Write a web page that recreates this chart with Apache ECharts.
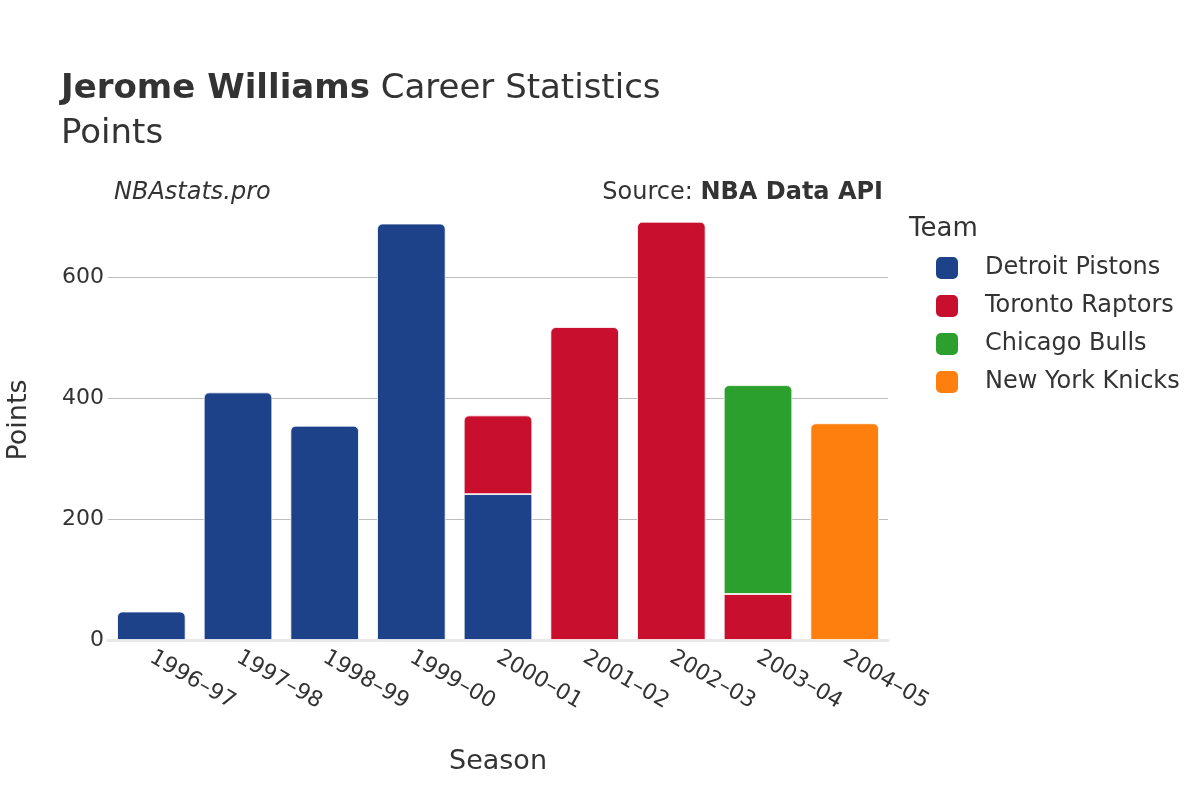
<!DOCTYPE html>
<html>
<head>
<meta charset="utf-8">
<script src="https://cdn.jsdelivr.net/npm/echarts@6/dist/echarts.min.js"></script>
<style>
  html, body { margin: 0; padding: 0; background: #fff; }
  #chart { width: 1200px; height: 800px; }
</style>
</head>
<body>
<div id="chart"></div>
<script>
// data
const seasons = ['1996–97', '1997–98', '1998–99', '1999–00', '2000–01', '2001–02', '2002–03', '2003–04', '2004–05']
const detroit = [47, 409, 354, 688, 241, null, null, null, null]
const toronto = [null, null, null, null, 130, 517, 691, 76, null]
const chicago = [null, null, null, null, null, null, null, 345, null]
const newYork = [null, null, null, null, null, null, null, null, 358]
const yTicks = [0, 200, 400, 600]

const teams = [
  { name: 'Detroit Pistons', data: detroit, color: '#1d428a' },
  { name: 'Toronto Raptors', data: toronto, color: '#c8102e' },
  { name: 'Chicago Bulls', data: chicago, color: '#2ca02c' },
  { name: 'New York Knicks', data: newYork, color: '#ff7f0e' },
]

const font = 'DejaVu Sans'
const textColor = '#333'

// top segment of each stack gets the rounded corners
const topIndex = seasons.map((s, i) => {
  let top = -1
  teams.forEach((t, k) => { if (t.data[i] != null) top = k })
  return top
})

const series = teams.map((t, k) => ({
  name: t.name,
  type: 'bar',
  stack: 'total',
  barCategoryGap: '21%',
  itemStyle: { color: t.color, borderColor: '#fff', borderWidth: 0.8 },
  data: t.data.map((v, i) => v == null ? null : {
    value: v,
    itemStyle: { borderRadius: topIndex[i] === k ? [5, 5, 0, 0] : 0 },
  }),
}))

const myChart = echarts.init(document.getElementById('chart'))
const option = {
  backgroundColor: '#fff',
  animation: false,
  title: [
    {
      text: '{b|Jerome Williams}{n| Career Statistics}',
      left: 56, top: 67,
      textStyle: {
        fontWeight: 'normal',
        rich: {
          b: { fontFamily: font, fontSize: 34, fontWeight: 'bold', color: textColor },
          n: { fontFamily: font, fontSize: 34, fontWeight: 'normal', color: textColor },
        },
      },
    },
    {
      text: 'Points',
      left: 56, top: 112,
      textStyle: { fontFamily: font, fontSize: 34, fontWeight: 'normal', color: textColor },
    },
    {
      text: 'NBAstats.pro',
      left: 109, top: 176,
      textStyle: { fontFamily: font, fontSize: 24, fontStyle: 'italic', fontWeight: 'normal', color: textColor },
    },
    {
      text: '{n|Source: }{b|NBA Data API}',
      right: 312, top: 176,
      textStyle: {
        fontWeight: 'normal',
        rich: {
          n: { fontFamily: font, fontSize: 24, fontWeight: 'normal', color: textColor },
          b: { fontFamily: font, fontSize: 24, fontWeight: 'bold', color: textColor },
        },
      },
    },
    {
      text: 'Team',
      left: 904, top: 211,
      textStyle: { fontFamily: font, fontSize: 26, fontWeight: 'normal', color: textColor },
    },
  ],
  legend: {
    orient: 'vertical',
    left: 929, top: 250,
    itemWidth: 24, itemHeight: 24, itemGap: 12,
    icon: 'roundRect',
    textStyle: { fontFamily: font, fontSize: 24, color: textColor, padding: [0, 0, 0, 21] },
    data: teams.map(t => t.name),
  },
  grid: { left: 108, right: 312, top: 200, bottom: 160, outerBoundsMode: 'none' },
  xAxis: {
    type: 'category',
    data: seasons,
    name: 'Season',
    nameLocation: 'middle',
    nameGap: 108,
    nameTextStyle: { fontFamily: font, fontSize: 27, color: textColor },
    axisLine: { lineStyle: { color: '#e8e8e8', width: 3 } },
    axisTick: { show: false },
    axisLabel: { rotate: -30, fontFamily: font, fontSize: 22, color: textColor, margin: 16 },
  },
  yAxis: {
    type: 'value',
    min: 0, max: 727, interval: 200,
    name: 'Points',
    nameLocation: 'middle',
    nameGap: 76,
    nameTextStyle: { fontFamily: font, fontSize: 27, color: textColor },
    axisLine: { show: false },
    axisTick: { show: false },
    axisLabel: {
      fontFamily: font, fontSize: 22, color: textColor, margin: 4, showMaxLabel: false,
      formatter: v => yTicks.includes(v) ? String(v) : '',
    },
    splitLine: { showMinLine: false, showMaxLine: false, lineStyle: { color: '#bdbdbd', width: 1.2 } },
  },
  series: series,
}

option && myChart.setOption(option)
</script>
</body>
</html>
